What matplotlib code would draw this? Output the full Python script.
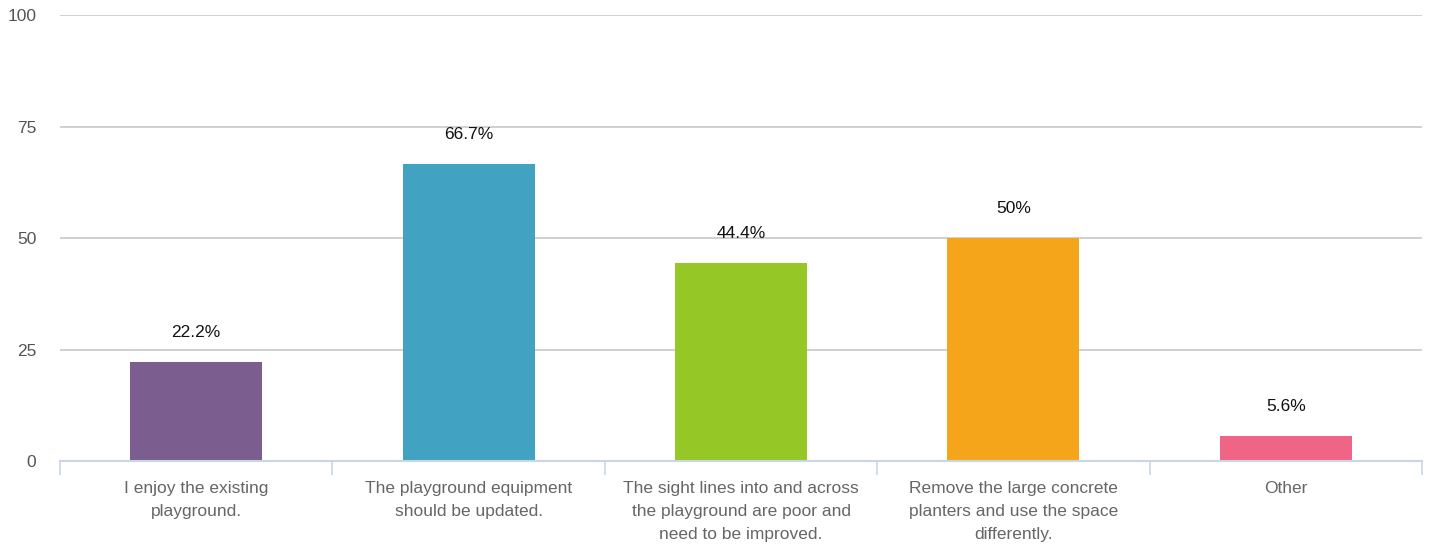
import matplotlib
matplotlib.use("Agg")
import matplotlib.pyplot as plt
from matplotlib.ticker import FixedLocator

categories = [
    "I enjoy the existing\nplayground.",
    "The playground equipment\nshould be updated.",
    "The sight lines into and across\nthe playground are poor and\nneed to be improved.",
    "Remove the large concrete\nplanters and use the space\ndifferently.",
    "Other",
]
values = [22.2, 66.7, 44.4, 50, 5.6]
value_labels = ["22.2%", "66.7%", "44.4%", "50%", "5.6%"]
colors = ["#7b5e8f", "#41a2c2", "#95c826", "#f5a51a", "#f06585"]
yticks = [0, 25, 50, 75, 100]

plt.rcParams['font.family'] = ['Liberation Sans', 'DejaVu Sans']

fig = plt.figure(figsize=(14.32, 5.48), dpi=100)
ax = fig.add_axes([60/1432, 87/548, 1362/1432, (461-15)/548])

x = list(range(len(categories)))
ax.bar(x, values, width=0.485, color=colors, zorder=3)

for xi, v, lab in zip(x, values, value_labels):
    ax.annotate(lab, (xi, v), xytext=(0, 21), textcoords='offset points',
                ha='center', va='center', fontsize=12.5, color='#111111')

ax.set_xlim(-0.5, len(categories) - 0.5)
ax.set_ylim(0, 100)
ax.set_yticks(yticks)
ax.set_yticklabels([str(t) for t in yticks])
ax.yaxis.grid(True, color='#c8c8c8', linewidth=1.2, zorder=0)
ax.tick_params(axis='y', length=0, pad=17, labelsize=12.5, labelcolor='#555555')

ax.set_xticks(x)
ax.set_xticklabels(categories, fontsize=12.5, color='#666666', linespacing=1.68)
ax.tick_params(axis='x', which='major', length=0, pad=14.5)
ax.xaxis.set_minor_locator(FixedLocator([i - 0.5 for i in range(len(categories) + 1)]))
ax.tick_params(axis='x', which='minor', length=10, width=1.2, color='#c9d6e6')

for s in ['top', 'right', 'left']:
    ax.spines[s].set_visible(False)
ax.spines['bottom'].set_color('#c9d6e6')
ax.spines['bottom'].set_linewidth(1.5)
ax.spines['bottom'].set_zorder(4)

fig.savefig("out.png", dpi=100)
